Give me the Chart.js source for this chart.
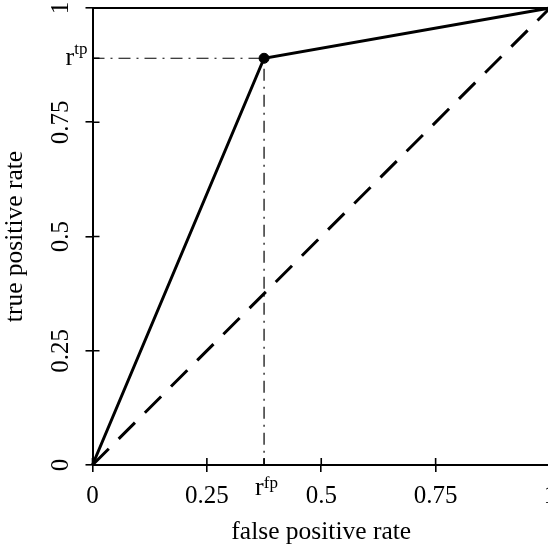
<!DOCTYPE html>
<html>
<head>
  <title>ROC point</title>
  <style>
    body { margin: 0; overflow: hidden; background: #fff; }
    #roc { display: block; }
  </style>
  <script src="https://cdn.jsdelivr.net/npm/chart.js"></script>
</head>
<body>
  <canvas id="roc" width="560" height="553"></canvas>
  <script>
    // values
    const tickValues = [0, 0.25, 0.5, 0.75, 1];
    const tickLabels = ['0', '0.25', '0.5', '0.75', '1'];
    const rocFpr = [0, 0.375, 1];
    const rocTpr = [0, 0.89, 1];
    const chanceFpr = [0, 1];
    const chanceTpr = [0, 1];
    const rFp = 0.375;
    const rTp = 0.89;

    const serif = "'Liberation Serif', 'DejaVu Serif', serif";
    const toPts = (xs, ys) => xs.map((x, i) => ({ x: x, y: ys[i] }));

    // inner half of the tick marks plus the r^tp / r^fp labels
    const extras = {
      id: 'extras',
      afterDraw(chart) {
        const ctx = chart.ctx;
        const xs = chart.scales.x, ys = chart.scales.y;
        const area = chart.chartArea;
        ctx.save();
        ctx.strokeStyle = '#000';
        ctx.lineWidth = 1.6;
        ctx.beginPath();
        tickValues.concat([rFp]).forEach(v => {
          const px = xs.getPixelForValue(v);
          ctx.moveTo(px, area.bottom);
          ctx.lineTo(px, area.bottom - 7);
        });
        tickValues.concat([rTp]).forEach(v => {
          const py = ys.getPixelForValue(v);
          ctx.moveTo(area.left, py);
          ctx.lineTo(area.left + 7, py);
        });
        ctx.stroke();

        ctx.fillStyle = '#000';
        ctx.textBaseline = 'alphabetic';
        // r^tp left of the y axis
        const py = ys.getPixelForValue(rTp);
        ctx.font = '17px ' + serif;
        const wTp = ctx.measureText('tp').width;
        ctx.textAlign = 'right';
        ctx.fillText('tp', area.left - 5, py - 4);
        ctx.font = '26px ' + serif;
        ctx.fillText('r', area.left - 5 - wTp, py + 7);
        // r^fp under the x axis
        const px = xs.getPixelForValue(rFp);
        ctx.textAlign = 'left';
        ctx.font = '26px ' + serif;
        const wR = ctx.measureText('r').width;
        ctx.fillText('r', px - 9, area.bottom + 30);
        ctx.font = '17px ' + serif;
        ctx.fillText('fp', px - 9 + wR, area.bottom + 23);
        ctx.restore();
      }
    };

    new Chart(document.getElementById('roc'), {
      type: 'scatter',
      data: {
        datasets: [
          {
            data: toPts(rocFpr, rocTpr), showLine: true, borderColor: '#000',
            borderWidth: 3, pointRadius: 0, clip: false
          },
          {
            data: toPts(chanceFpr, chanceTpr), showLine: true, borderColor: '#000',
            borderWidth: 3, borderDash: [23, 14], pointRadius: 0, clip: false
          },
          {
            data: toPts([0, 1], [1, 1]), showLine: true, borderColor: '#000',
            borderWidth: 2, pointRadius: 0, clip: false
          },
          {
            data: toPts([0, rFp, rFp], [rTp, rTp, 0]), showLine: true, borderColor: '#000',
            borderWidth: 1.2, borderDash: [12, 6, 2, 6], pointRadius: 0, clip: false
          },
          {
            data: toPts([rFp], [rTp]), showLine: false, backgroundColor: '#000',
            borderColor: '#000', pointRadius: 5, clip: false
          }
        ]
      },
      options: {
        responsive: false,
        animation: false,
        layout: { padding: { top: 8, right: 10, left: 0, bottom: 0 } },
        plugins: { legend: { display: false }, tooltip: { enabled: false } },
        scales: {
          x: {
            type: 'linear', min: 0, max: 1,
            afterBuildTicks: s => { s.ticks = tickValues.map(v => ({ value: v })); },
            afterFit: s => { s.height = 88; s.paddingLeft = 0; s.paddingRight = 0; },
            ticks: {
              color: '#000', padding: 9, maxRotation: 0,
              font: { family: serif, size: 25 },
              callback: (v, i) => tickLabels[i]
            },
            grid: { drawOnChartArea: false, color: '#000', lineWidth: 1.6, tickLength: 7 },
            border: { color: '#000', width: 2 },
            title: {
              display: true, text: 'false positive rate', color: '#000',
              font: { family: serif, size: 25.5 }, padding: { top: 0, bottom: 5 }
            }
          },
          y: {
            type: 'linear', min: 0, max: 1,
            afterBuildTicks: s => { s.ticks = tickValues.map(v => ({ value: v })); },
            afterFit: s => { s.width = 92.5; s.paddingTop = 0; s.paddingBottom = 0; },
            ticks: {
              color: '#000', padding: 2, minRotation: 90, maxRotation: 90, crossAlign: 'center',
              font: { family: serif, size: 25 },
              callback: (v, i) => tickLabels[i]
            },
            grid: { drawOnChartArea: false, color: '#000', lineWidth: 1.6, tickLength: 7 },
            border: { color: '#000', width: 2 },
            title: {
              display: true, text: 'true positive rate', color: '#000',
              font: { family: serif, size: 25.5 }, padding: { top: 0, bottom: 0 }
            }
          }
        }
      },
      plugins: [extras]
    });
  </script>
</body>
</html>
